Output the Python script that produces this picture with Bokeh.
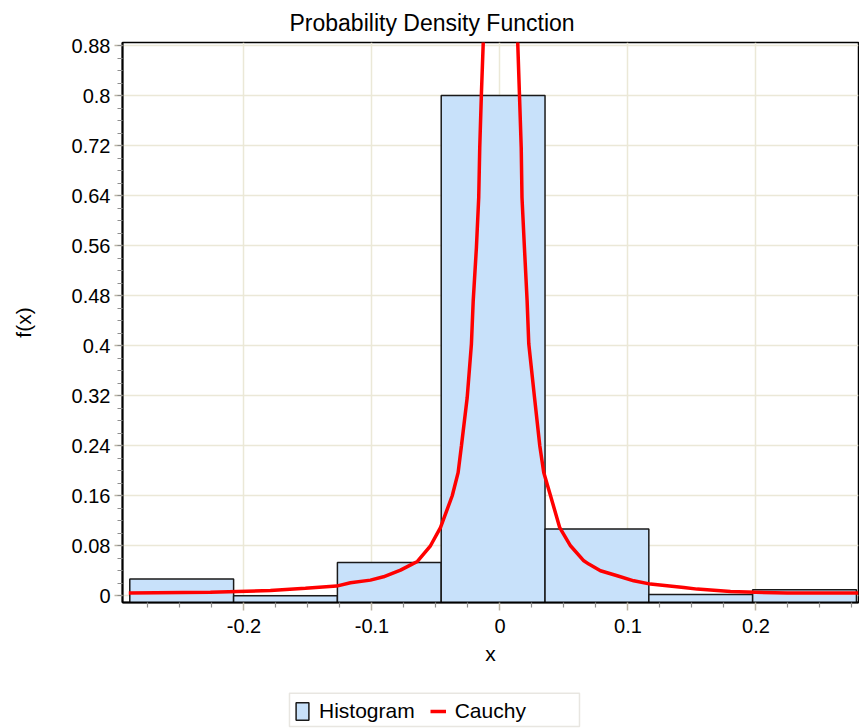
from bokeh.plotting import figure
from bokeh.layouts import column
from bokeh.models import (Range1d, FixedTicker, Legend, LegendItem, ColumnDataSource,
                          BoxAnnotation)
from bokeh.embed import file_html
from bokeh.resources import INLINE

# ---------------- data ----------------
bin_left = [-0.2892, -0.2081, -0.1270, -0.0459, 0.0352, 0.1163, 0.1974]
bin_width = 0.0811
hist_density = [0.0267, 0.0, 0.0533, 0.8, 0.1067, 0.002, 0.0096]

cauchy_x = [-0.2900, -0.2262, -0.1793, -0.1520, -0.1277, -0.1168, -0.1012, -0.0910,
            -0.0777, -0.0686, -0.0645, -0.0543, -0.0465, -0.0373, -0.0327, -0.0301,
            -0.0256, -0.0223, -0.0209, -0.0184, -0.0166, -0.0158, -0.0145, -0.0131,
            0.0004,
            0.0139, 0.0152, 0.0166, 0.0172, 0.0191, 0.0212, 0.0225, 0.0270, 0.0311,
            0.0342, 0.0395, 0.0467, 0.0551, 0.0655, 0.0694, 0.0785, 0.0916, 0.1045,
            0.1176, 0.1436, 0.1541, 0.1801, 0.2244, 0.2801]
cauchy_y = [0.0043, 0.0056, 0.0083, 0.0120, 0.0155, 0.0208, 0.0251, 0.0304,
            0.0411, 0.0507, 0.0549, 0.0800, 0.1090, 0.1600, 0.1970, 0.2400,
            0.3170, 0.4030, 0.4720, 0.5570, 0.6370, 0.7170, 0.8030, 0.8830,
            1.6000,
            0.8830, 0.8030, 0.7170, 0.6370, 0.5570, 0.4720, 0.4030, 0.3170, 0.2400,
            0.1970, 0.1600, 0.1090, 0.0800, 0.0560, 0.0507, 0.0400, 0.0320, 0.0240,
            0.0187, 0.0133, 0.0107, 0.0069, 0.0043, 0.0043]

x_ticks = [-0.2, -0.1, 0.0, 0.1, 0.2]
x_tick_labels = ["-0.2", "-0.1", "0", "0.1", "0.2"]
x_minor = [-0.275, -0.25, -0.225, -0.175, -0.15, -0.125, -0.075, -0.05, -0.025,
           0.025, 0.05, 0.075, 0.125, 0.15, 0.175, 0.225, 0.25, 0.275]
y_ticks = [0.0, 0.08, 0.16, 0.24, 0.32, 0.40, 0.48, 0.56, 0.64, 0.72, 0.80, 0.88]
y_tick_labels = ["0", "0.08", "0.16", "0.24", "0.32", "0.4", "0.48", "0.56",
                 "0.64", "0.72", "0.8", "0.88"]
y_minor = [0.02 * i for i in range(0, 45)]

x_lo, x_hi = -0.2949, 0.2801
y_lo, y_hi = -0.0107, 0.8848

FONT = "Liberation Sans"
BAR_FILL = "#C8E1FA"
BAR_LINE = "#1A1A1A"
CURVE = "#FF0000"

p = figure(width=859, height=680, output_backend="svg", toolbar_location=None,
           x_range=Range1d(x_lo, x_hi), y_range=Range1d(y_lo, y_hi),
           min_border_left=122, min_border_right=1, min_border_top=42,
           min_border_bottom=78, title="Probability Density Function")
p.background_fill_color = "white"
p.border_fill_color = "white"
p.outline_line_color = "black"
p.outline_line_width = 1.5

p.title.text_font = FONT
p.title.text_font_size = "23px"
p.title.text_font_style = "normal"
p.title.text_color = "black"
p.title.align = "left"
p.title.offset = 167
p.title.standoff = 14

src = ColumnDataSource(dict(left=bin_left,
                            right=[b + bin_width for b in bin_left],
                            top=hist_density))
curve_src = ColumnDataSource(dict(x=cauchy_x, y=cauchy_y))
p.quad(left="left", right="right", top="top", bottom=y_lo - 0.01, source=src,
       fill_color=BAR_FILL, line_color=BAR_LINE, line_width=1.5)
p.line("x", "y", source=curve_src, line_color=CURVE, line_width=3.5)

# axes
p.xaxis.ticker = FixedTicker(ticks=x_ticks, minor_ticks=x_minor)
p.yaxis.ticker = FixedTicker(ticks=y_ticks, minor_ticks=y_minor)
p.xaxis.major_label_overrides = {t: l for t, l in zip(x_ticks, x_tick_labels)}
p.yaxis.major_label_overrides = {t: l for t, l in zip(y_ticks, y_tick_labels)}
p.xaxis.axis_label = "x"
p.yaxis.axis_label = "f(x)"
for ax in (p.xaxis, p.yaxis):
    ax.axis_line_color = "black"
    ax.axis_line_width = 2
    ax.major_tick_line_color = "#BDB6A6"
    ax.major_tick_line_width = 1.5
    ax.minor_tick_line_color = "#8E8E8E"
    ax.minor_tick_line_width = 1.2
    ax.major_tick_in = 0
    ax.major_tick_out = 8
    ax.minor_tick_in = 0
    ax.minor_tick_out = 5
    ax.major_label_text_font = FONT
    ax.major_label_text_font_size = "20px"
    ax.major_label_text_color = "black"
    ax.axis_label_text_font = FONT
    ax.axis_label_text_font_size = "21px"
    ax.axis_label_text_font_style = "normal"
    ax.axis_label_text_color = "black"
p.xaxis.major_label_standoff = 8
p.yaxis.major_label_standoff = 4
p.xaxis.axis_label_standoff = 6
p.yaxis.axis_label_standoff = 34

p.xgrid.grid_line_color = "#EBE8D7"
p.ygrid.grid_line_color = "#EBE8D7"
p.xgrid.grid_line_width = 1.5
p.ygrid.grid_line_width = 1.5

# ---- legend strip below the chart (its frame is aligned with the chart frame) ----
lg = figure(width=859, height=48, output_backend="svg", toolbar_location=None,
            x_range=Range1d(10, 11), y_range=Range1d(0, 1), min_border=0,
            x_axis_location=None, y_axis_location=None)
lg.grid.visible = False
lg.outline_line_color = None
lg.background_fill_color = "white"
lg.border_fill_color = "white"
# same data, outside this strip's visible range: only used for the legend swatches
r_hist = lg.quad(left="left", right="right", top="top", bottom=0, source=src,
                 fill_color=BAR_FILL, line_color=BAR_LINE, line_width=1.5)
r_line = lg.line("x", "y", source=curve_src, line_color=CURVE, line_width=3.5)

# legend frame box (strip frame spans 736 px over 10..11, 48 px over 0..1)
frame_box = BoxAnnotation(left=10.2269, right=10.6209, bottom=0.042, top=0.735,
                          fill_color="white", fill_alpha=1.0,
                          line_color="#B3AC9C", line_width=1.5)
lg.add_layout(frame_box)

legend = Legend(items=[LegendItem(label="Histogram", renderers=[r_hist]),
                       LegendItem(label="Cauchy", renderers=[r_line])],
                orientation="horizontal", location=(172, 5))
legend.label_text_font = FONT
legend.label_text_font_size = "21px"
legend.label_text_color = "black"
legend.border_line_color = None
legend.background_fill_alpha = 0.0
legend.padding = 4
legend.spacing = 15
legend.label_standoff = 9
legend.glyph_width = 16
legend.glyph_height = 22
legend.margin = 0
lg.add_layout(legend, "center")

layout = column(p, lg, spacing=0)
open("out.html", "w").write(file_html(layout, INLINE))
